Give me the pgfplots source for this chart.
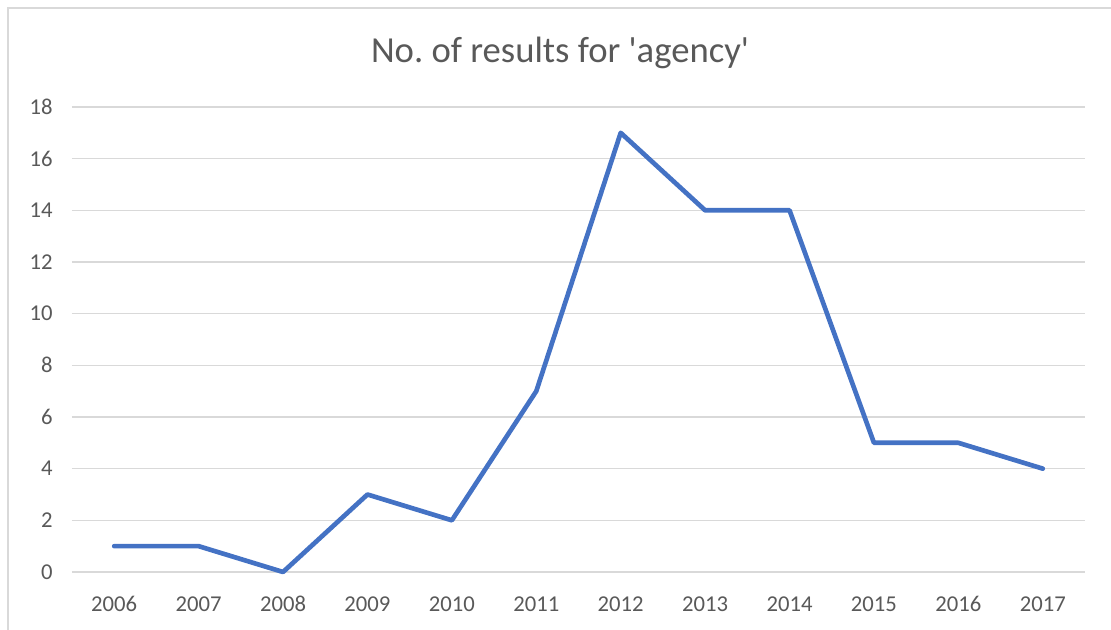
\documentclass[border=0pt]{standalone}
\usepackage{pgfplots}
\pgfplotsset{compat=1.18}
\usepackage{fontspec}
\setmainfont{Carlito}[Numbers=Lining]
\definecolor{txt}{HTML}{595959}
\definecolor{gridc}{HTML}{D9D9D9}
\definecolor{linec}{HTML}{4472C4}
\begin{document}
\frenchspacing
\begin{tikzpicture}
\useasboundingbox (-54pt,-43.5pt) rectangle (779.25pt,429pt);
\draw[gridc, line width=0.9pt] (-48pt,-60pt) -- (-48pt,423pt) -- (800pt,423pt);
\begin{axis}[
  at={(0pt,0pt)}, anchor=south west,
  scale only axis,
  width=759.75pt, height=348.75pt,
  xmin=-0.5, xmax=11.5, ymin=0, ymax=18,
  xtick={0,...,11},
  xticklabels={2006,2007,2008,2009,2010,2011,2012,2013,2014,2015,2016,2017},
  ytick={0,2,...,18},
  axis line style={draw=none},
  major tick length=0pt,
  ymajorgrids, xmajorgrids=false, grid style={gridc, line width=0.8pt},
  tick label style={font=\fontsize{17}{20}\selectfont, text=txt},
  /pgf/number format/assume math mode=true,
  yticklabel style={xshift=-11pt},
  xticklabel style={anchor=base, yshift=-30pt},
  clip=false,
]
\addplot[linec, line width=3.5pt, line join=round, line cap=round] coordinates {
(0,1) (1,1) (2,0) (3,3) (4,2) (5,7) (6,17) (7,14) (8,14) (9,5) (10,5) (11,4)};
\end{axis}
\node[anchor=base, text=txt, font=\fontsize{27.5}{32}\selectfont] at (366pt,381.75pt) {No. of results for \textquotesingle agency\textquotesingle};
\end{tikzpicture}
\end{document}
